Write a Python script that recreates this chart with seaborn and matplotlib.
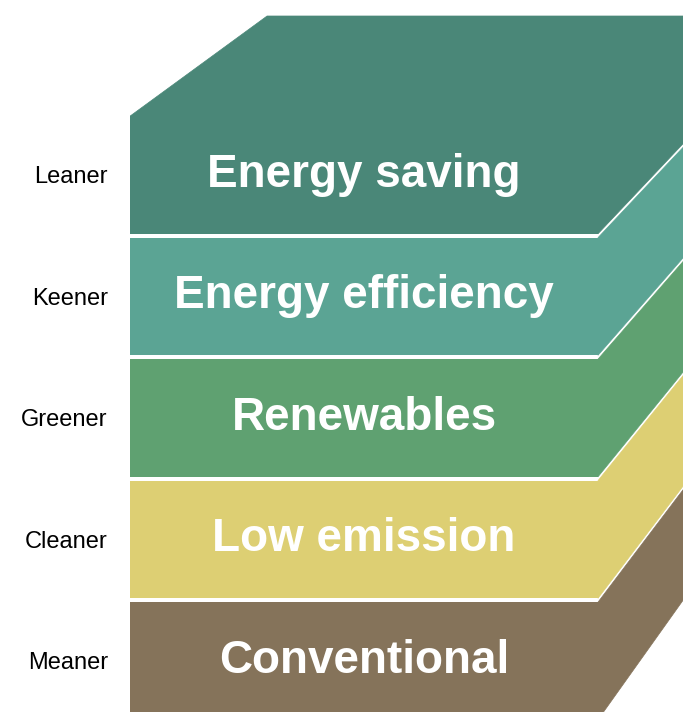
"""
Stacked energy-layer block diagram (Leaner ... Meaner).
"""

import matplotlib

matplotlib.use("Agg")
import matplotlib.pyplot as plt
import numpy as np
import pandas as pd
import seaborn as sns


LEVELS = ["Leaner", "Keener", "Greener", "Cleaner", "Meaner"]
LAYER_NAMES = ["Energy saving", "Energy efficiency", "Renewables", "Low emission", "Conventional"]
BAR_LENGTH = [1.0, 1.0, 1.0, 1.0, 1.0]
LAYER_COLORS = ["#4A8778", "#5BA494", "#5FA171", "#DDCF73", "#85735A"]

# perspective: vanishing point and how far back the block goes (data units)
VANISH = np.array([3.996, -11.73])
DEPTH = 0.0733


def back(pt):
    pt = np.asarray(pt, dtype=float)
    return pt + DEPTH * (VANISH - pt)


def main():
    sns.set_style("white")
    plt.rcParams["font.family"] = ["Liberation Sans", "DejaVu Sans"]

    df = pd.DataFrame({"level": LEVELS, "length": BAR_LENGTH, "name": LAYER_NAMES})

    fig = plt.figure(figsize=(6.83, 7.12), dpi=100)
    ax = fig.add_axes([130 / 683, 0, 553 / 683, 1])

    sns.barplot(
        data=df,
        x="length",
        y="level",
        hue="level",
        palette=LAYER_COLORS,
        orient="h",
        width=0.968,
        saturation=1,
        legend=False,
        linewidth=0,
        ax=ax,
    )

    ax.set_xlim(0, 553 / 468)
    ax.set_ylim(4.420, -1.440)

    for i, (patch, color, name) in enumerate(zip(ax.patches, LAYER_COLORS, LAYER_NAMES)):
        x1 = patch.get_x() + patch.get_width()
        y0 = patch.get_y()
        y1 = y0 + patch.get_height()
        top_right = np.array([x1, y0])
        bot_right = np.array([x1, y1])
        if i == 0:
            top_left = np.array([patch.get_x(), y0])
            pts = [top_left, back(top_left), back(top_right), back(bot_right), bot_right, top_right]
        else:
            pts = [top_right, back(top_right), back(bot_right), bot_right]
        pts = np.array(pts)
        ax.fill(pts[:, 0], pts[:, 1], facecolor=color, edgecolor=color, linewidth=0.5, zorder=1)

        ax.text(
            patch.get_x() + patch.get_width() / 2,
            (y0 + y1) / 2,
            name,
            ha="center",
            va="center",
            color="white",
            fontsize=33,
            fontweight="bold",
            zorder=3,
        )

    ax.set_xlabel("")
    ax.set_ylabel("")
    ax.set_xticks([])
    ax.tick_params(axis="y", length=0, pad=16, labelsize=17, labelcolor="black")
    sns.despine(ax=ax, left=True, bottom=True)

    fig.savefig("out.png", dpi=100)
    plt.close(fig)


if __name__ == "__main__":
    main()
